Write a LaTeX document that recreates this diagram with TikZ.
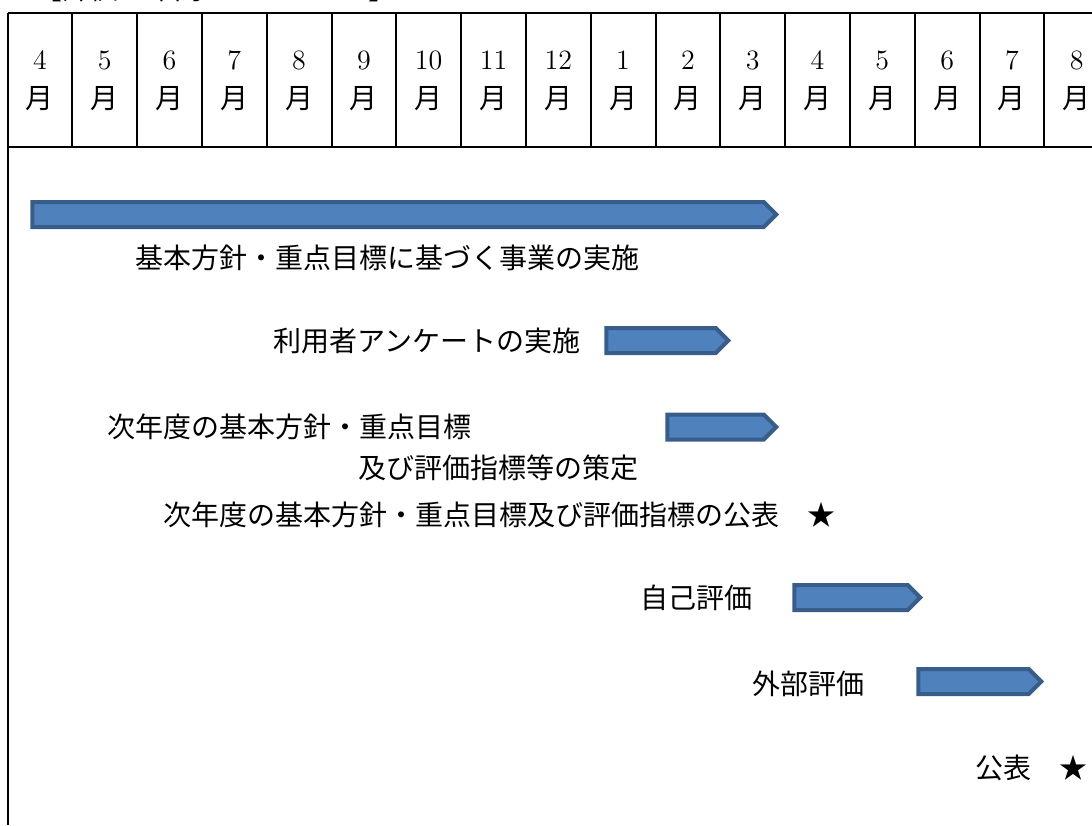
\documentclass[tikz,border=0pt]{standalone}
\usepackage{fontspec}
\usetikzlibrary{shapes.symbols}
\newfontfamily\jp{Noto Sans CJK JP}
\definecolor{barfill}{HTML}{4F81BD}
\definecolor{barline}{HTML}{385D8A}
\tikzset{
  gridline/.style={line width=1pt},
  monthtxt/.style={align=center,font=\fontsize{14}{19.5}\selectfont,inner sep=0},
  lbl/.style={font=\jp\fontsize{14}{16}\selectfont,inner sep=0,anchor=west},
  bar/.style={signal,signal to=east,signal pointer angle=90,draw=barline,fill=barfill,
    line width=2pt,inner sep=0,minimum height=12.5pt},
}
\begin{document}
\begin{tikzpicture}[x=0.5pt,y=-0.5pt]
\useasboundingbox (0,0) rectangle (1092,825);

  \node[lbl,anchor=base west] (title) at (34,-0.5) {【評価の年間スケジュール】};

  % month header
  \draw[gridline] (7.5,12.7)--(1092,12.7);
  \draw[gridline] (7.5,146.7)--(1092,146.7);
  \draw[gridline] (7.5,12.7)--(7.5,825);
  \foreach \m [count=\i from 0] in {4,5,6,7,8,9,10,11,12,1,2,3,4,5,6,7,8}{
    \draw[gridline] ({7.5+64.8*\i},12.7)--({7.5+64.8*\i},146.7);
    \node[monthtxt] (m\i) at ({39.9+64.8*\i},81) {\m\\{\jp\fontsize{14}{19.5}\selectfont 月}};
  }

  % bars
  \node[bar,minimum width=372pt] (b1) at (398,214.5) {};
  \node[bar,minimum width=61pt] (b2) at (661,340.5) {};
  \node[bar,minimum width=54.5pt] (b3) at (715.5,427) {};
  \node[bar,minimum width=63pt] (b4) at (851,597.5) {};
  \node[bar,minimum width=61.5pt] (b5) at (973.5,681.5) {};

  % labels
  \node[lbl] (t1) at (135,258) {基本方針・重点目標に基づく事業の実施};
  \node[lbl] (t2) at (273,341) {利用者アンケートの実施};
  \node[lbl] (t3) at (107,427) {次年度の基本方針・重点目標};
  \node[lbl] (t4) at (358,468) {及び評価指標等の策定};
  \node[lbl] (t5) at (163,515) {次年度の基本方針・重点目標及び評価指標の公表　★};
  \node[lbl] (t6) at (640,598) {自己評価};
  \node[lbl] (t7) at (752,684) {外部評価};
  \node[lbl] (t8) at (975,768) {公表　★};
\end{tikzpicture}
\end{document}
